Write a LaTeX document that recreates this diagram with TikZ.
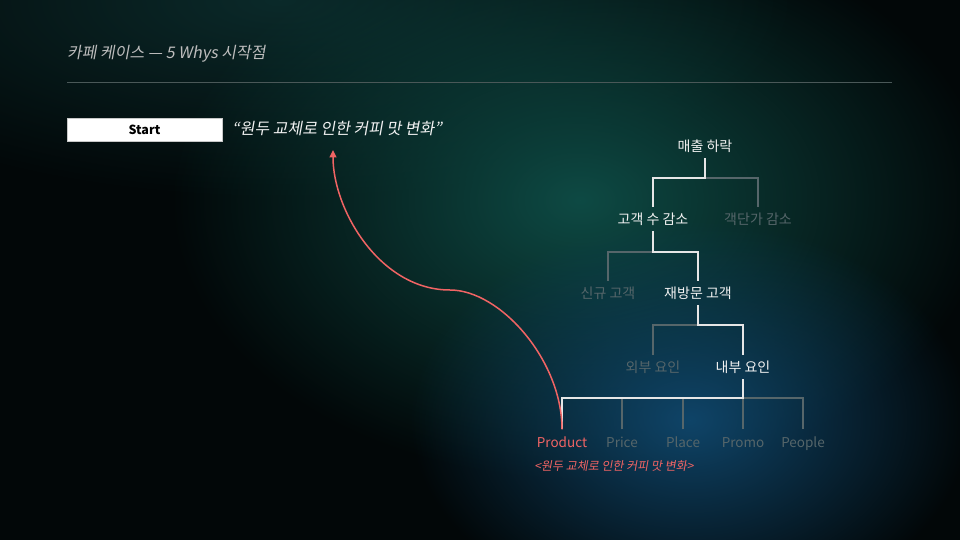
\documentclass[tikz,border=0pt]{standalone}
\usepackage{fontspec}
\setmainfont{Noto Sans CJK KR}
\newfontfamily\slfont[FakeSlant=0.18]{Noto Sans CJK KR}
\usetikzlibrary{arrows.meta,fadings}
\tikzfading[name=glowfade, inner color=transparent!0, outer color=transparent!100]
\definecolor{bgbase}{HTML}{020708}
\definecolor{glowA}{HTML}{0E4A44}
\definecolor{glowB}{HTML}{0F4468}
\definecolor{glowC}{HTML}{0B2A2A}
\definecolor{txtwhite}{HTML}{F2F2F2}
\definecolor{txtgray}{HTML}{56666A}
\definecolor{linewhite}{HTML}{E6E6E6}
\definecolor{linegray}{HTML}{56666A}
\definecolor{titlegray}{HTML}{BDBDBD}
\definecolor{rulegray}{HTML}{4A5858}
\definecolor{accred}{HTML}{F06464}
\definecolor{boxedge}{HTML}{C8C8C8}
\begin{document}
\begin{tikzpicture}[x=1pt,y=-1pt,
  tnode/.style={font=\fontsize{14}{16}\selectfont, text height=12pt, text depth=1pt, inner xsep=2pt, inner ysep=5.5pt},
  hot/.style={tnode, text=txtwhite},
  cold/.style={tnode, text=txtgray},
  pnode/.style={tnode, font=\fontsize{13.5}{16}\selectfont},
  wl/.style={draw=linewhite, line width=1.2pt},
  gl/.style={draw=linegray, line width=1.2pt},
  redline/.style={draw=accred, line width=1.5pt}]
\useasboundingbox (0,0) rectangle (960,540);
% background
\fill[bgbase] (0,0) rectangle (960,540);
\fill[glowC, path fading=glowfade] (280,0) ellipse (520 and 200);
\fill[glowA, path fading=glowfade] (580,200) ellipse (410 and 280);
\fill[glowB, path fading=glowfade] (690,420) ellipse (280 and 200);
% title
\node[anchor=west, inner sep=0, text=titlegray, font=\slfont\fontsize{16}{18}\selectfont] (title) at (67,54) {카페 케이스 — 5 Whys 시작점};
\draw[rulegray, line width=1pt] (67,83) -- (892,83);
% start
\node[fill=white, draw=boxedge, line width=0.8pt, minimum width=155pt, minimum height=23pt, inner sep=0, text=black, font=\bfseries\fontsize{12.5}{14}\selectfont] (start) at (144.5,130) {Start};
\node[anchor=west, inner sep=0, text=txtwhite, font=\slfont\fontsize{16}{18}\selectfont] (quote) at (232,129) {“원두 교체로 인한 커피 맛 변화”};
% tree nodes
\node[hot] (n1) at (705,146) {매출 하락};
\node[hot] (n2) at (653,219) {고객 수 감소};
\node[cold] (n3) at (758,219) {객단가 감소};
\node[cold] (n4) at (608,293) {신규 고객};
\node[hot] (n5) at (698,293) {재방문 고객};
\node[cold] (n6) at (653,367) {외부 요인};
\node[hot] (n7) at (743,367) {내부 요인};
\node[pnode, text=accred] (p1) at (562,441.5) {Product};
\node[pnode, text=txtgray] (p2) at (622,441.5) {Price};
\node[pnode, text=txtgray] (p3) at (683,441.5) {Place};
\node[pnode, text=txtgray] (p4) at (743,441.5) {Promo};
\node[pnode, text=txtgray] (p5) at (803,441.5) {People};
\node[text=accred, inner sep=0, font=\slfont\fontsize{12}{14}\selectfont] (note) at (614,466) {<원두 교체로 인한 커피 맛 변화>};
% junctions
\coordinate (j1) at (705,178);
\coordinate (j2) at (653,252);
\coordinate (j3) at (698,325);
\coordinate (j4) at (743,398);
% tree connectors
\draw[gl] (j1) -| (n3.north);
\draw[gl] (j2) -| (n4.north);
\draw[gl] (j3) -| (n6.north);
\draw[gl] (j4) -| (p5.north);
\draw[gl] (j4) -- (p4.north);
\draw[gl] (p2.north) -- (p2.north |- j4);
\draw[gl] (p3.north) -- (p3.north |- j4);
\draw[wl] (n1.south) -- (j1) -| (n2.north);
\draw[wl] (n2.south) -- (j2) -| (n5.north);
\draw[wl] (n5.south) -- (j3) -| (n7.north);
\draw[wl] (n7.south) -- (j4) -| (p1.north);
% red curve
\coordinate (mid) at (450,290);
\coordinate (tip) at (333,150);
\draw[redline, -{Triangle[length=7.5pt,width=7pt]}] (p1.north) .. controls (562,360) and (500,290) .. (mid) .. controls (380,290) and (333,210) .. (tip);
\end{tikzpicture}
\end{document}
